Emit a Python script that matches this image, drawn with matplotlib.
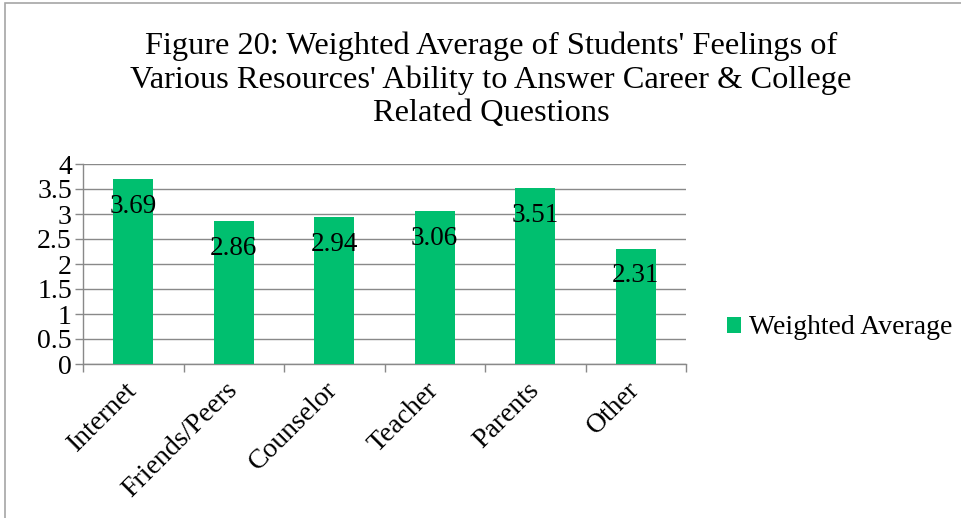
import matplotlib.pyplot as plt
from matplotlib.patches import Rectangle

plt.rcParams['font.family'] = ['Liberation Serif', 'DejaVu Serif']

categories = ['Internet', 'Friends/Peers', 'Counselor', 'Teacher', 'Parents', 'Other']
weighted_avg = [3.69, 2.86, 2.94, 3.06, 3.51, 2.31]
y_ticks = [0, 0.5, 1, 1.5, 2, 2.5, 3, 3.5, 4]
y_tick_labels = ['0', '0.5', '1', '1.5', '2', '2.5', '3', '3.5', '4']

bar_color = '#00BF6F'
grid_color = '#898989'

fig = plt.figure(figsize=(9.61, 5.18), dpi=100)
ax = fig.add_axes([83 / 961, 1 - 364 / 518, (686 - 83) / 961, 200 / 518])

x = list(range(len(categories)))
bars = ax.bar(x, weighted_avg, width=0.4, color=bar_color, label='Weighted Average', zorder=3)

for xi, v in zip(x, weighted_avg):
    ax.annotate(f'{v:.2f}', (xi, v), xytext=(0, -19.5), textcoords='offset points',
                ha='center', va='center', fontsize=19.5, color='black', zorder=4)

ax.set_xlim(-0.5, len(categories) - 0.5)
ax.set_ylim(0, 4)
ax.set_yticks(y_ticks)
ax.set_yticklabels(y_tick_labels, fontsize=20)
ax.yaxis.grid(True, color=grid_color, linewidth=1, zorder=0)
ax.tick_params(axis='y', length=6, width=1, color=grid_color, pad=2)

# category ticks sit at the boundaries, labels at the bar centres
ax.set_xticks([i - 0.5 for i in range(len(categories) + 1)])
ax.set_xticklabels([])
ax.set_xticks(x, minor=True)
ax.set_xticklabels(categories, minor=True, rotation=45, ha='right', va='center',
                   rotation_mode='anchor', fontsize=20)
ax.tick_params(axis='x', which='major', length=6, width=1, color=grid_color)
ax.tick_params(axis='x', which='minor', length=0, pad=16)

for side in ['top', 'right']:
    ax.spines[side].set_visible(False)
for side in ['left', 'bottom']:
    ax.spines[side].set_color(grid_color)
    ax.spines[side].set_linewidth(1)

fig.text(491 / 961, 1 - 80 / 518,
         "Figure 20: Weighted Average of Students' Feelings of\n"
         "Various Resources' Ability to Answer Career & College\n"
         "Related Questions",
         ha='center', va='center', fontsize=23.3, linespacing=1.18)

ax.legend(loc='center left', bbox_to_anchor=(716 / 961, 1 - 328 / 518),
          bbox_transform=fig.transFigure, frameon=False, fontsize=20,
          handlelength=0.5, handleheight=0.5, handletextpad=0.3, borderaxespad=0)

fig.patches.append(Rectangle((5 / 961, -0.1), 1.1, 1 - 3 / 518 + 0.1,
                             transform=fig.transFigure, fill=False,
                             edgecolor='#A6A6A6', linewidth=1.2))

fig.savefig('out.png', dpi=100)
